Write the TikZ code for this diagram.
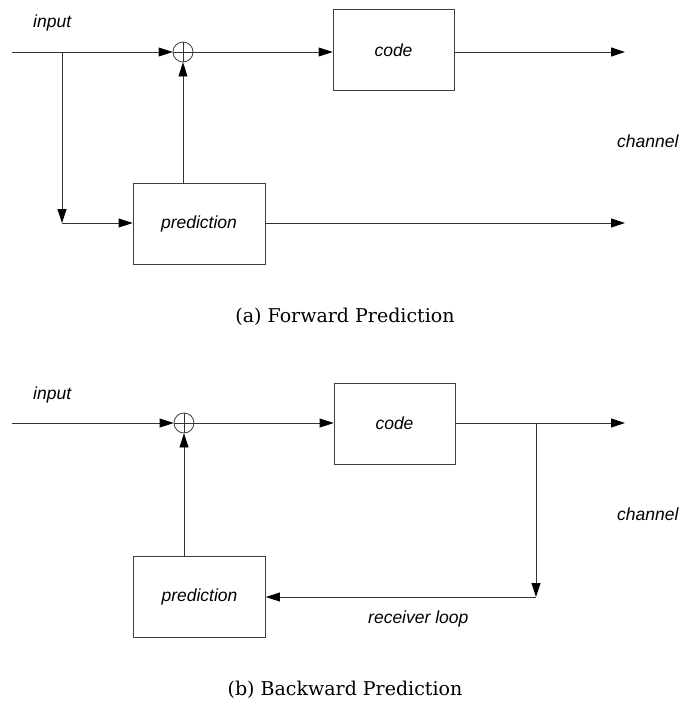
\documentclass[tikz,border=0pt]{standalone}
\usepackage{fontspec}
\newfontfamily\lblfont{Liberation Sans}
\newfontfamily\capfont{DejaVu Serif}
\usetikzlibrary{arrows.meta}
\begin{document}
\begin{tikzpicture}[x=1pt,y=-1pt,
  wire/.style={draw=black!80,line width=0.8pt},
  flow/.style={wire,-{Triangle[length=14pt,width=9pt,color=black,fill=black]}},
  block/.style={draw=black!75,line width=0.8pt,minimum width=121pt,minimum height=81pt,
    font=\lblfont\itshape\fontsize{17.5}{20}\selectfont},
  predblock/.style={block,minimum width=132pt},
  summer/.style={circle,draw=black!75,line width=0.8pt,minimum size=20pt,inner sep=0pt,
    path picture={\draw[black!80,line width=0.8pt]
      (path picture bounding box.north) -- (path picture bounding box.south)
      (path picture bounding box.west) -- (path picture bounding box.east);}},
  lbl/.style={font=\lblfont\itshape\fontsize{17.5}{20}\selectfont,inner sep=0pt},
  caption/.style={font=\capfont\fontsize{19}{22}\selectfont,inner sep=0pt,anchor=base}]
\useasboundingbox (0,0) rectangle (680,702);

% ---------- (a) forward prediction ----------
\coordinate (inA) at (12,52);
\coordinate (brA) at (62,52);
\coordinate (cnA) at (62,223);
\node[summer] (sumA) at (183,52) {};
\node[block] (codeA) at (393.5,50) {code};
\node[predblock] (predA) at (199,223.5) {prediction};
\coordinate (outA) at (625,52);
\coordinate (outA2) at (625,223);

\draw[wire] (inA) -- (brA);
\draw[flow] (brA) -- (sumA.west);
\draw[flow] (sumA.east) -- (codeA.west |- sumA);
\draw[flow] (codeA.east |- outA) -- (outA);
\draw[flow] (brA) -- (cnA);
\draw[flow] (cnA) -- (predA.west |- cnA);
\draw[flow] (predA.north -| sumA) -- (sumA.south);
\draw[flow] (predA.east |- outA2) -- (outA2);

\node[lbl,anchor=base west] (inlblA) at (33,27) {input};
\node[lbl,anchor=base west] (chA) at (617,147) {channel};
\node[caption] (capA) at (345,322) {(a) Forward Prediction};

% ---------- (b) backward prediction ----------
\coordinate (inB) at (12,423);
\node[summer] (sumB) at (184,423) {};
\node[block] (codeB) at (394.5,423.5) {code};
\node[predblock] (predB) at (199.5,597) {prediction};
\coordinate (brB) at (536,423);
\coordinate (cnB) at (536,597);
\coordinate (outB) at (625,423);

\draw[flow] (inB) -- (sumB.west);
\draw[flow] (sumB.east) -- (codeB.west |- sumB);
\draw[flow] (codeB.east |- outB) -- (outB);
\draw[flow] (brB) -- (cnB);
\draw[flow] (cnB) -- (predB.east |- cnB);
\draw[flow] (predB.north -| sumB) -- (sumB.south);

\node[lbl,anchor=base west] (inlblB) at (33,399) {input};
\node[lbl,anchor=base west] (chB) at (617,520) {channel};
\node[lbl,anchor=base west] (rxB) at (368,623) {receiver loop};
\node[caption] (capB) at (345,695) {(b) Backward Prediction};
\end{tikzpicture}
\end{document}
